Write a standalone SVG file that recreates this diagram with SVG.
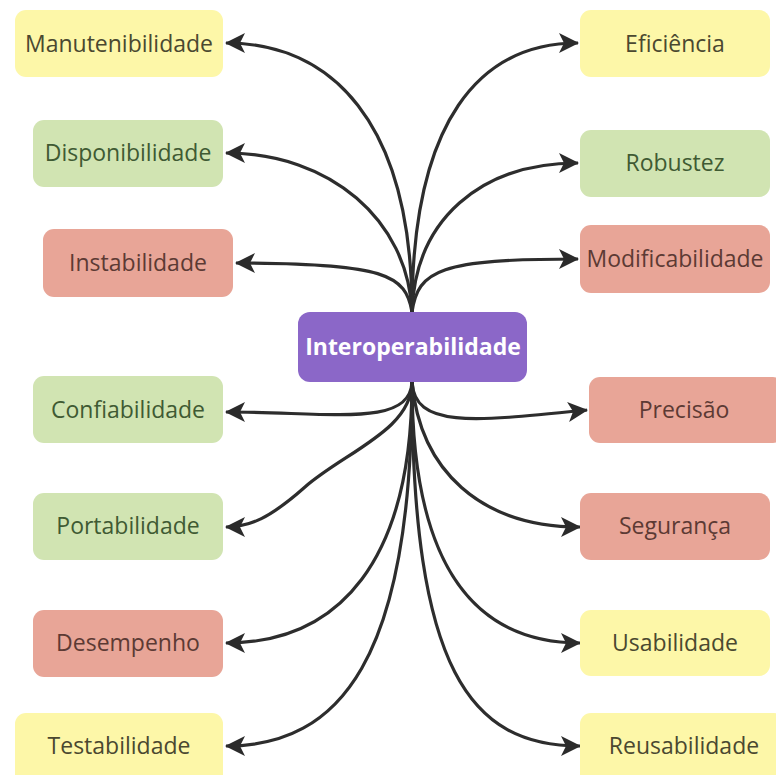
<svg xmlns="http://www.w3.org/2000/svg" width="776" height="775" viewBox="0 0 776 775">
<defs>
<marker id="arr" viewBox="0 0 22 22" refX="20" refY="11" markerWidth="22" markerHeight="22" orient="auto" markerUnits="userSpaceOnUse">
<path d="M1,1 L21,11 L1,21 L6,11 z" fill="#2b2b2b"/>
</marker>
<style>
.y{fill:#fdf7a8}
.g{fill:#d1e4b2}
.r{fill:#e8a597}
.p{fill:#8b67c8}
text{font-family:"Open Sans","Noto Sans","Liberation Sans",sans-serif;font-size:23px;text-anchor:middle}
.ty{fill:#4a4830}
.tg{fill:#3f5a33}
.tr{fill:#5c3a34}
.tc{fill:#ffffff;font-weight:bold}
.c{fill:none;stroke:#2d2d2d;stroke-width:3.2;marker-end:url(#arr)}
</style>
</defs>
<rect width="776" height="775" fill="#ffffff"/>
<g id="connectors">
<path class="c" d="M412,312 C412,120 330,43 226,43"/>
<path class="c" d="M412,312 C408,220 330,153 226,153"/>
<path class="c" d="M412,312 C406,275 385,263 236,263"/>
<path class="c" d="M412,312 C412,120 480,43 578,43"/>
<path class="c" d="M412,312 C415,220 480,163 578,163"/>
<path class="c" d="M412,312 C418,270 440,259 578,259"/>
<path class="c" d="M412,382 C410,428 330,412 226,412"/>
<path class="c" d="M412,382 C412,430 345,452 305,487 C270,518 250,527 226,527"/>
<path class="c" d="M412,382 C412,560 340,643 226,643"/>
<path class="c" d="M412,382 C412,660 340,746 226,746"/>
<path class="c" d="M412,382 C415,428 470,422 587,410"/>
<path class="c" d="M412,382 C420,470 480,527 580,527"/>
<path class="c" d="M412,382 C412,560 470,643 580,643"/>
<path class="c" d="M412,382 C412,670 470,746 580,746"/>
</g>
<g id="n-center"><rect class="p" x="298" y="312" width="229" height="70" rx="12"/><text class="tc" x="413" y="355">Interoperabilidade</text></g>
<g id="n-manutenibilidade"><rect class="y" x="15" y="10" width="208" height="67" rx="11"/><text class="ty" x="119" y="52">Manutenibilidade</text></g>
<g id="n-disponibilidade"><rect class="g" x="33" y="120" width="190" height="67" rx="11"/><text class="tg" x="128" y="161">Disponibilidade</text></g>
<g id="n-instabilidade"><rect class="r" x="43" y="229" width="190" height="68" rx="11"/><text class="tr" x="138" y="271">Instabilidade</text></g>
<g id="n-confiabilidade"><rect class="g" x="33" y="376" width="190" height="67" rx="11"/><text class="tg" x="128" y="418">Confiabilidade</text></g>
<g id="n-portabilidade"><rect class="g" x="33" y="493" width="190" height="67" rx="11"/><text class="tg" x="128" y="534">Portabilidade</text></g>
<g id="n-desempenho"><rect class="r" x="33" y="610" width="190" height="67" rx="11"/><text class="tr" x="128" y="651">Desempenho</text></g>
<g id="n-testabilidade"><rect class="y" x="15" y="713" width="208" height="75" rx="11"/><text class="ty" x="119" y="754">Testabilidade</text></g>
<g id="n-eficiencia"><rect class="y" x="580" y="10" width="190" height="67" rx="11"/><text class="ty" x="675" y="52">Eficiência</text></g>
<g id="n-robustez"><rect class="g" x="580" y="130" width="190" height="67" rx="11"/><text class="tg" x="675" y="171">Robustez</text></g>
<g id="n-modificabilidade"><rect class="r" x="580" y="225" width="190" height="68" rx="11"/><text class="tr" x="675" y="267">Modificabilidade</text></g>
<g id="n-precisao"><rect class="r" x="589" y="377" width="195" height="66" rx="11"/><text class="tr" x="684" y="418">Precisão</text></g>
<g id="n-seguranca"><rect class="r" x="580" y="493" width="190" height="67" rx="11"/><text class="tr" x="675" y="534">Segurança</text></g>
<g id="n-usabilidade"><rect class="y" x="580" y="610" width="190" height="66" rx="11"/><text class="ty" x="675" y="651">Usabilidade</text></g>
<g id="n-reusabilidade"><rect class="y" x="580" y="713" width="205" height="75" rx="11"/><text class="ty" x="684" y="754">Reusabilidade</text></g>
</svg>
